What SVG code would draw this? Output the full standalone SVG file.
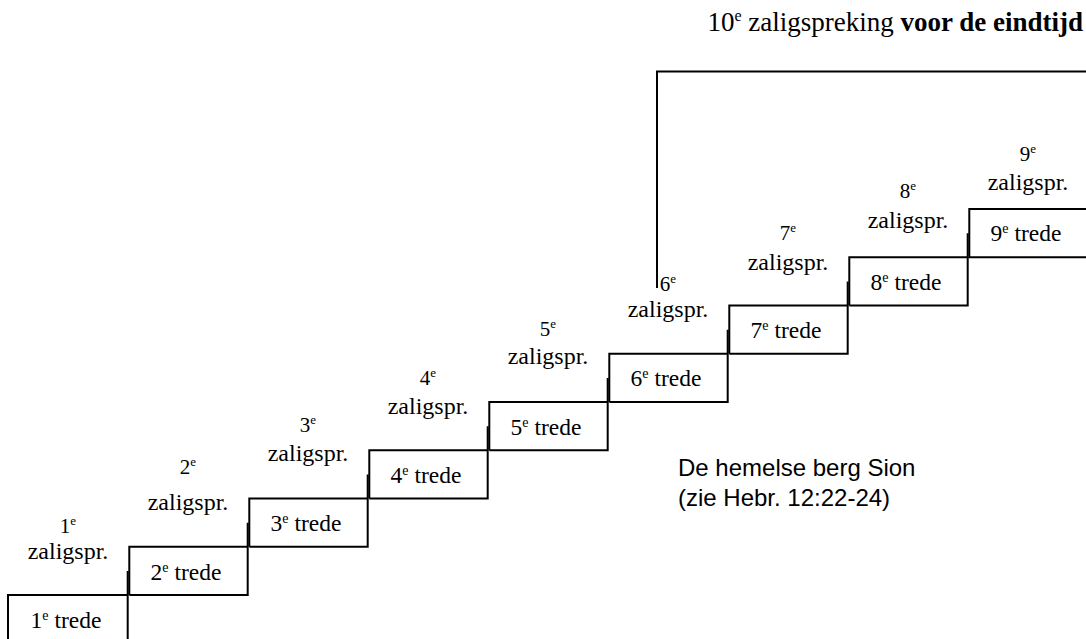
<svg xmlns="http://www.w3.org/2000/svg" width="1086" height="639" viewBox="0 0 1086 639">
<style>
.ln{fill:none;stroke:#000;stroke-width:2}
.t{font-family:"Liberation Serif","Times New Roman",serif;fill:#000;text-anchor:middle}
.num{font-size:21px}
.zal{font-size:24px}
.tr{font-size:23.5px}
.sup{font-size:14px}
.supn{font-size:13px}
.a{font-family:"Liberation Sans",Arial,sans-serif;font-size:24px;fill:#000}
</style>
<rect width="1086" height="639" fill="#fff"/>
<g id="connectors">
<path class="ln" d="M656 71.5H1086M657 72.5V288"/>
</g>
<g id="step1"><path class="ln" d="M8 645V595H127.7V645M127.7 571V595"/>
<text class="t tr" x="66" y="628">1<tspan class="sup" dy="-8">e</tspan><tspan dy="8"> trede</tspan></text>
<text class="t num" x="68" y="533">1<tspan class="supn" dy="-8">e</tspan></text>
<text class="t zal" x="68" y="559">zaligspr.</text></g>
<g id="step2"><path class="ln" d="M129.3 595V546.75H247.7V595H129.3M247.7 522.75V546.75"/>
<text class="t tr" x="186" y="579.5">2<tspan class="sup" dy="-8">e</tspan><tspan dy="8"> trede</tspan></text>
<text class="t num" x="188" y="474">2<tspan class="supn" dy="-8">e</tspan></text>
<text class="t zal" x="188" y="510">zaligspr.</text></g>
<g id="step3"><path class="ln" d="M249.3 546.75V498.5H367.7V546.75H249.3M367.7 474.5V498.5"/>
<text class="t tr" x="306" y="531">3<tspan class="sup" dy="-8">e</tspan><tspan dy="8"> trede</tspan></text>
<text class="t num" x="308" y="432">3<tspan class="supn" dy="-8">e</tspan></text>
<text class="t zal" x="308" y="461">zaligspr.</text></g>
<g id="step4"><path class="ln" d="M369.3 498.5V450.25H487.7V498.5H369.3M487.7 426.25V450.25"/>
<text class="t tr" x="426" y="483">4<tspan class="sup" dy="-8">e</tspan><tspan dy="8"> trede</tspan></text>
<text class="t num" x="428" y="385">4<tspan class="supn" dy="-8">e</tspan></text>
<text class="t zal" x="428" y="414">zaligspr.</text></g>
<g id="step5"><path class="ln" d="M489.3 450.25V402H607.7V450.25H489.3M607.7 378V402"/>
<text class="t tr" x="546" y="434.5">5<tspan class="sup" dy="-8">e</tspan><tspan dy="8"> trede</tspan></text>
<text class="t num" x="548" y="336">5<tspan class="supn" dy="-8">e</tspan></text>
<text class="t zal" x="548" y="364">zaligspr.</text></g>
<g id="step6"><path class="ln" d="M609.3 402V353.75H727.7V402H609.3M727.7 329.75V353.75"/>
<text class="t tr" x="666" y="386">6<tspan class="sup" dy="-8">e</tspan><tspan dy="8"> trede</tspan></text>
<text class="t num" x="668" y="291">6<tspan class="supn" dy="-8">e</tspan></text>
<text class="t zal" x="668" y="317">zaligspr.</text></g>
<g id="step7"><path class="ln" d="M729.3 353.75V305.5H847.7V353.75H729.3M847.7 281.5V305.5"/>
<text class="t tr" x="786" y="338">7<tspan class="sup" dy="-8">e</tspan><tspan dy="8"> trede</tspan></text>
<text class="t num" x="788" y="240">7<tspan class="supn" dy="-8">e</tspan></text>
<text class="t zal" x="788" y="270">zaligspr.</text></g>
<g id="step8"><path class="ln" d="M849.3 305.5V257.25H967.7V305.5H849.3M967.7 233.25V257.25"/>
<text class="t tr" x="906" y="289.5">8<tspan class="sup" dy="-8">e</tspan><tspan dy="8"> trede</tspan></text>
<text class="t num" x="908" y="198">8<tspan class="supn" dy="-8">e</tspan></text>
<text class="t zal" x="908" y="228">zaligspr.</text></g>
<g id="step9"><path class="ln" d="M1095 257.25H969.3V209H1095"/>
<text class="t tr" x="1026" y="241">9<tspan class="sup" dy="-8">e</tspan><tspan dy="8"> trede</tspan></text>
<text class="t num" x="1028" y="161">9<tspan class="supn" dy="-8">e</tspan></text>
<text class="t zal" x="1028" y="190">zaligspr.</text></g>
<g id="title">
<text class="t" x="1083" y="31" style="text-anchor:end;font-size:27px">10<tspan style="font-size:16px" dy="-10">e</tspan><tspan dy="10"> zaligspreking </tspan><tspan font-weight="bold">voor de eindtijd</tspan></text>
</g>
<g id="sion">
<text class="a" x="678" y="476">De hemelse berg Sion</text>
<text class="a" x="678" y="506">(zie Hebr. 12:22-24)</text>
</g>
</svg>
